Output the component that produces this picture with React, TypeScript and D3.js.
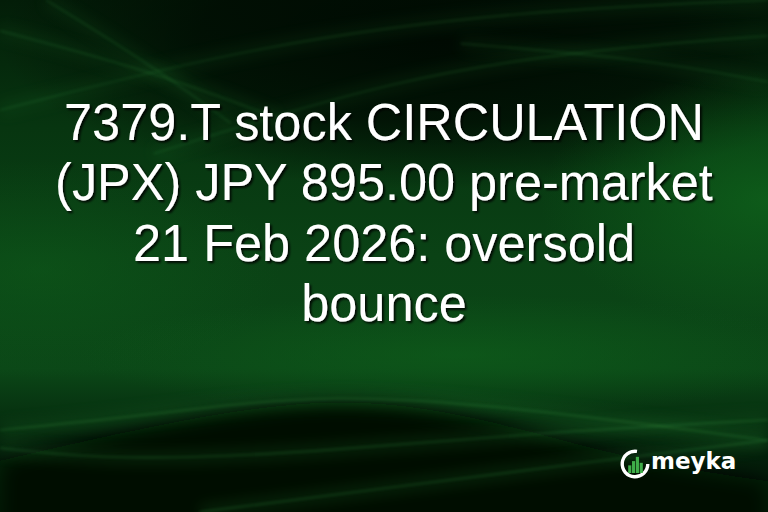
import * as d3 from "d3";

const titleLines = [
  "7379.T stock CIRCULATION",
  "(JPX) JPY 895.00 pre-market",
  "21 Feb 2026: oversold",
  "bounce",
];
const brand = "meyka";
const logoBars = [0.45, 0.7, 0.95, 0.6];

// background streaks, in 0..1 space of the card
const streaks: [number, number][][] = [
  [[0.0, 0.215], [0.34, 0.085], [0.68, 0.02], [1.0, 0.0]],
  [[0.2, 0.3], [0.52, 0.15], [0.78, 0.095], [1.0, 0.07]],
  [[0.6, 0.085], [0.84, 0.115], [1.0, 0.16]],
  [[0.0, 0.06], [0.2, 0.14], [0.36, 0.23]],
  [[0.06, 0.0], [0.2, 0.13], [0.3, 0.24]],
  [[0.0, 0.84], [0.2, 0.81], [0.43, 0.765], [0.7, 0.8], [1.0, 0.86]],
  [[0.0, 0.875], [0.15, 0.9], [0.4, 0.885], [0.7, 0.845], [1.0, 0.82]],
  [[0.26, 1.0], [0.52, 0.95], [0.78, 0.9], [1.0, 0.86]],
];
const lowStreaks = new Set([5, 6, 7]);
const darkWave: [number, number][] = [
  [0.0, 0.9], [0.2, 0.83], [0.43, 0.77], [0.62, 0.81], [0.82, 0.9], [1.0, 0.94],
];

const W = 768;
const H = 512;

export default function App() {
  const x = d3.scaleLinear().domain([0, 1]).range([0, W]);
  const y = d3.scaleLinear().domain([0, 1]).range([0, H]);
  const line = d3.line<[number, number]>().x(d => x(d[0])).y(d => y(d[1])).curve(d3.curveBasis);
  const area = d3.area<[number, number]>().x(d => x(d[0])).y0(H + 30).y1(d => y(d[1])).curve(d3.curveBasis);
  const lineY = d3.scaleLinear().domain([0, 3]).range([140, 321.5]);

  const cx = 635, cy = 464, r = 12.8;
  const arc = d3.arc()({ innerRadius: r - 1.7, outerRadius: r + 1.7, startAngle: Math.PI * 0.5, endAngle: Math.PI * 2.05 });
  const barX = d3.scaleBand<number>().domain(d3.range(logoBars.length)).range([cx - 7.5, cx + 8.5]).padding(0.18);
  const barH = d3.scaleLinear().domain([0, 1]).range([0, 17]);

  return (
    <svg width={W} height={H} style={{ position: "absolute", left: 0, top: 0, display: "block" }}>
      <defs>
        <linearGradient id="base" x1="0" y1="0" x2="0" y2="1">
          <stop offset="0" stopColor="#031d08" />
          <stop offset="0.25" stopColor="#073510" />
          <stop offset="0.5" stopColor="#0a4215" />
          <stop offset="0.72" stopColor="#0b4717" />
          <stop offset="0.88" stopColor="#03200a" />
          <stop offset="1" stopColor="#021607" />
        </linearGradient>
        <radialGradient id="topDark" cx="0.5" cy="0.5" r="0.5">
          <stop offset="0" stopColor="#000a02" stopOpacity="1" />
          <stop offset="0.55" stopColor="#000a02" stopOpacity="0.75" />
          <stop offset="1" stopColor="#000a02" stopOpacity="0" />
        </radialGradient>
        <radialGradient id="glow" cx="0.5" cy="0.5" r="0.5">
          <stop offset="0" stopColor="#0f651c" stopOpacity="0.85" />
          <stop offset="1" stopColor="#0f651c" stopOpacity="0" />
        </radialGradient>
        <filter id="blur8" x="-20%" y="-40%" width="140%" height="180%"><feGaussianBlur stdDeviation="10" /></filter>
        <filter id="blur2" x="-5%" y="-20%" width="110%" height="140%"><feGaussianBlur stdDeviation="1.4" /></filter>
        <filter id="blur6" x="-10%" y="-50%" width="120%" height="200%"><feGaussianBlur stdDeviation="7" /></filter>
        <filter id="shadow" x="-5%" y="-20%" width="110%" height="140%">
          <feDropShadow dx="2" dy="2" stdDeviation="1" floodColor="#000" floodOpacity="0.85" />
        </filter>
      </defs>

      <rect width={W} height={H} fill="url(#base)" />
      <ellipse cx={440} cy={40} rx={440} ry={150} fill="url(#topDark)" />
      <ellipse cx={770} cy={200} rx={230} ry={130} fill="url(#glow)" opacity={0.9} />
      <ellipse cx={40} cy={270} rx={240} ry={110} fill="url(#glow)" opacity={0.45} />
      <ellipse cx={460} cy={355} rx={380} ry={60} fill="url(#glow)" opacity={0.6} />
      <path d={area(darkWave) ?? ""} fill="#000c03" filter="url(#blur8)" />

      {streaks.map((s, i) => (
        <g key={i}>
          <path d={line(s) ?? ""} fill="none" stroke="#2a8a38" strokeWidth={14}
            opacity={lowStreaks.has(i) ? 0.16 : 0.1} filter="url(#blur6)" />
          <path d={line(s) ?? ""} fill="none" stroke="#3fa84d" strokeWidth={1.4}
            opacity={lowStreaks.has(i) ? 0.3 : 0.22} filter="url(#blur2)" />
        </g>
      ))}

      <g transform={`translate(${W / 2},0) scale(0.97,1)`} filter="url(#shadow)">
        {titleLines.map((t, i) => (
          <text key={i} x={0} y={lineY(i)} textAnchor="middle" fill="#fff"
            fontFamily="'Liberation Sans', Arial, sans-serif" fontSize={52}>{t}</text>
        ))}
      </g>

      <g>
        <path d={arc ?? ""} transform={`translate(${cx},${cy})`} fill="#fff" />
        {logoBars.map((v, i) => (
          <rect key={i} x={barX(i)} y={cy + 9 - barH(v)} width={barX.bandwidth()} height={barH(v)} fill="#3fae49" />
        ))}
        <text x={651} y={469} fill="#fff" fontFamily="'DejaVu Sans', sans-serif" fontWeight="bold" fontSize={23}>{brand}</text>
      </g>
    </svg>
  );
}
